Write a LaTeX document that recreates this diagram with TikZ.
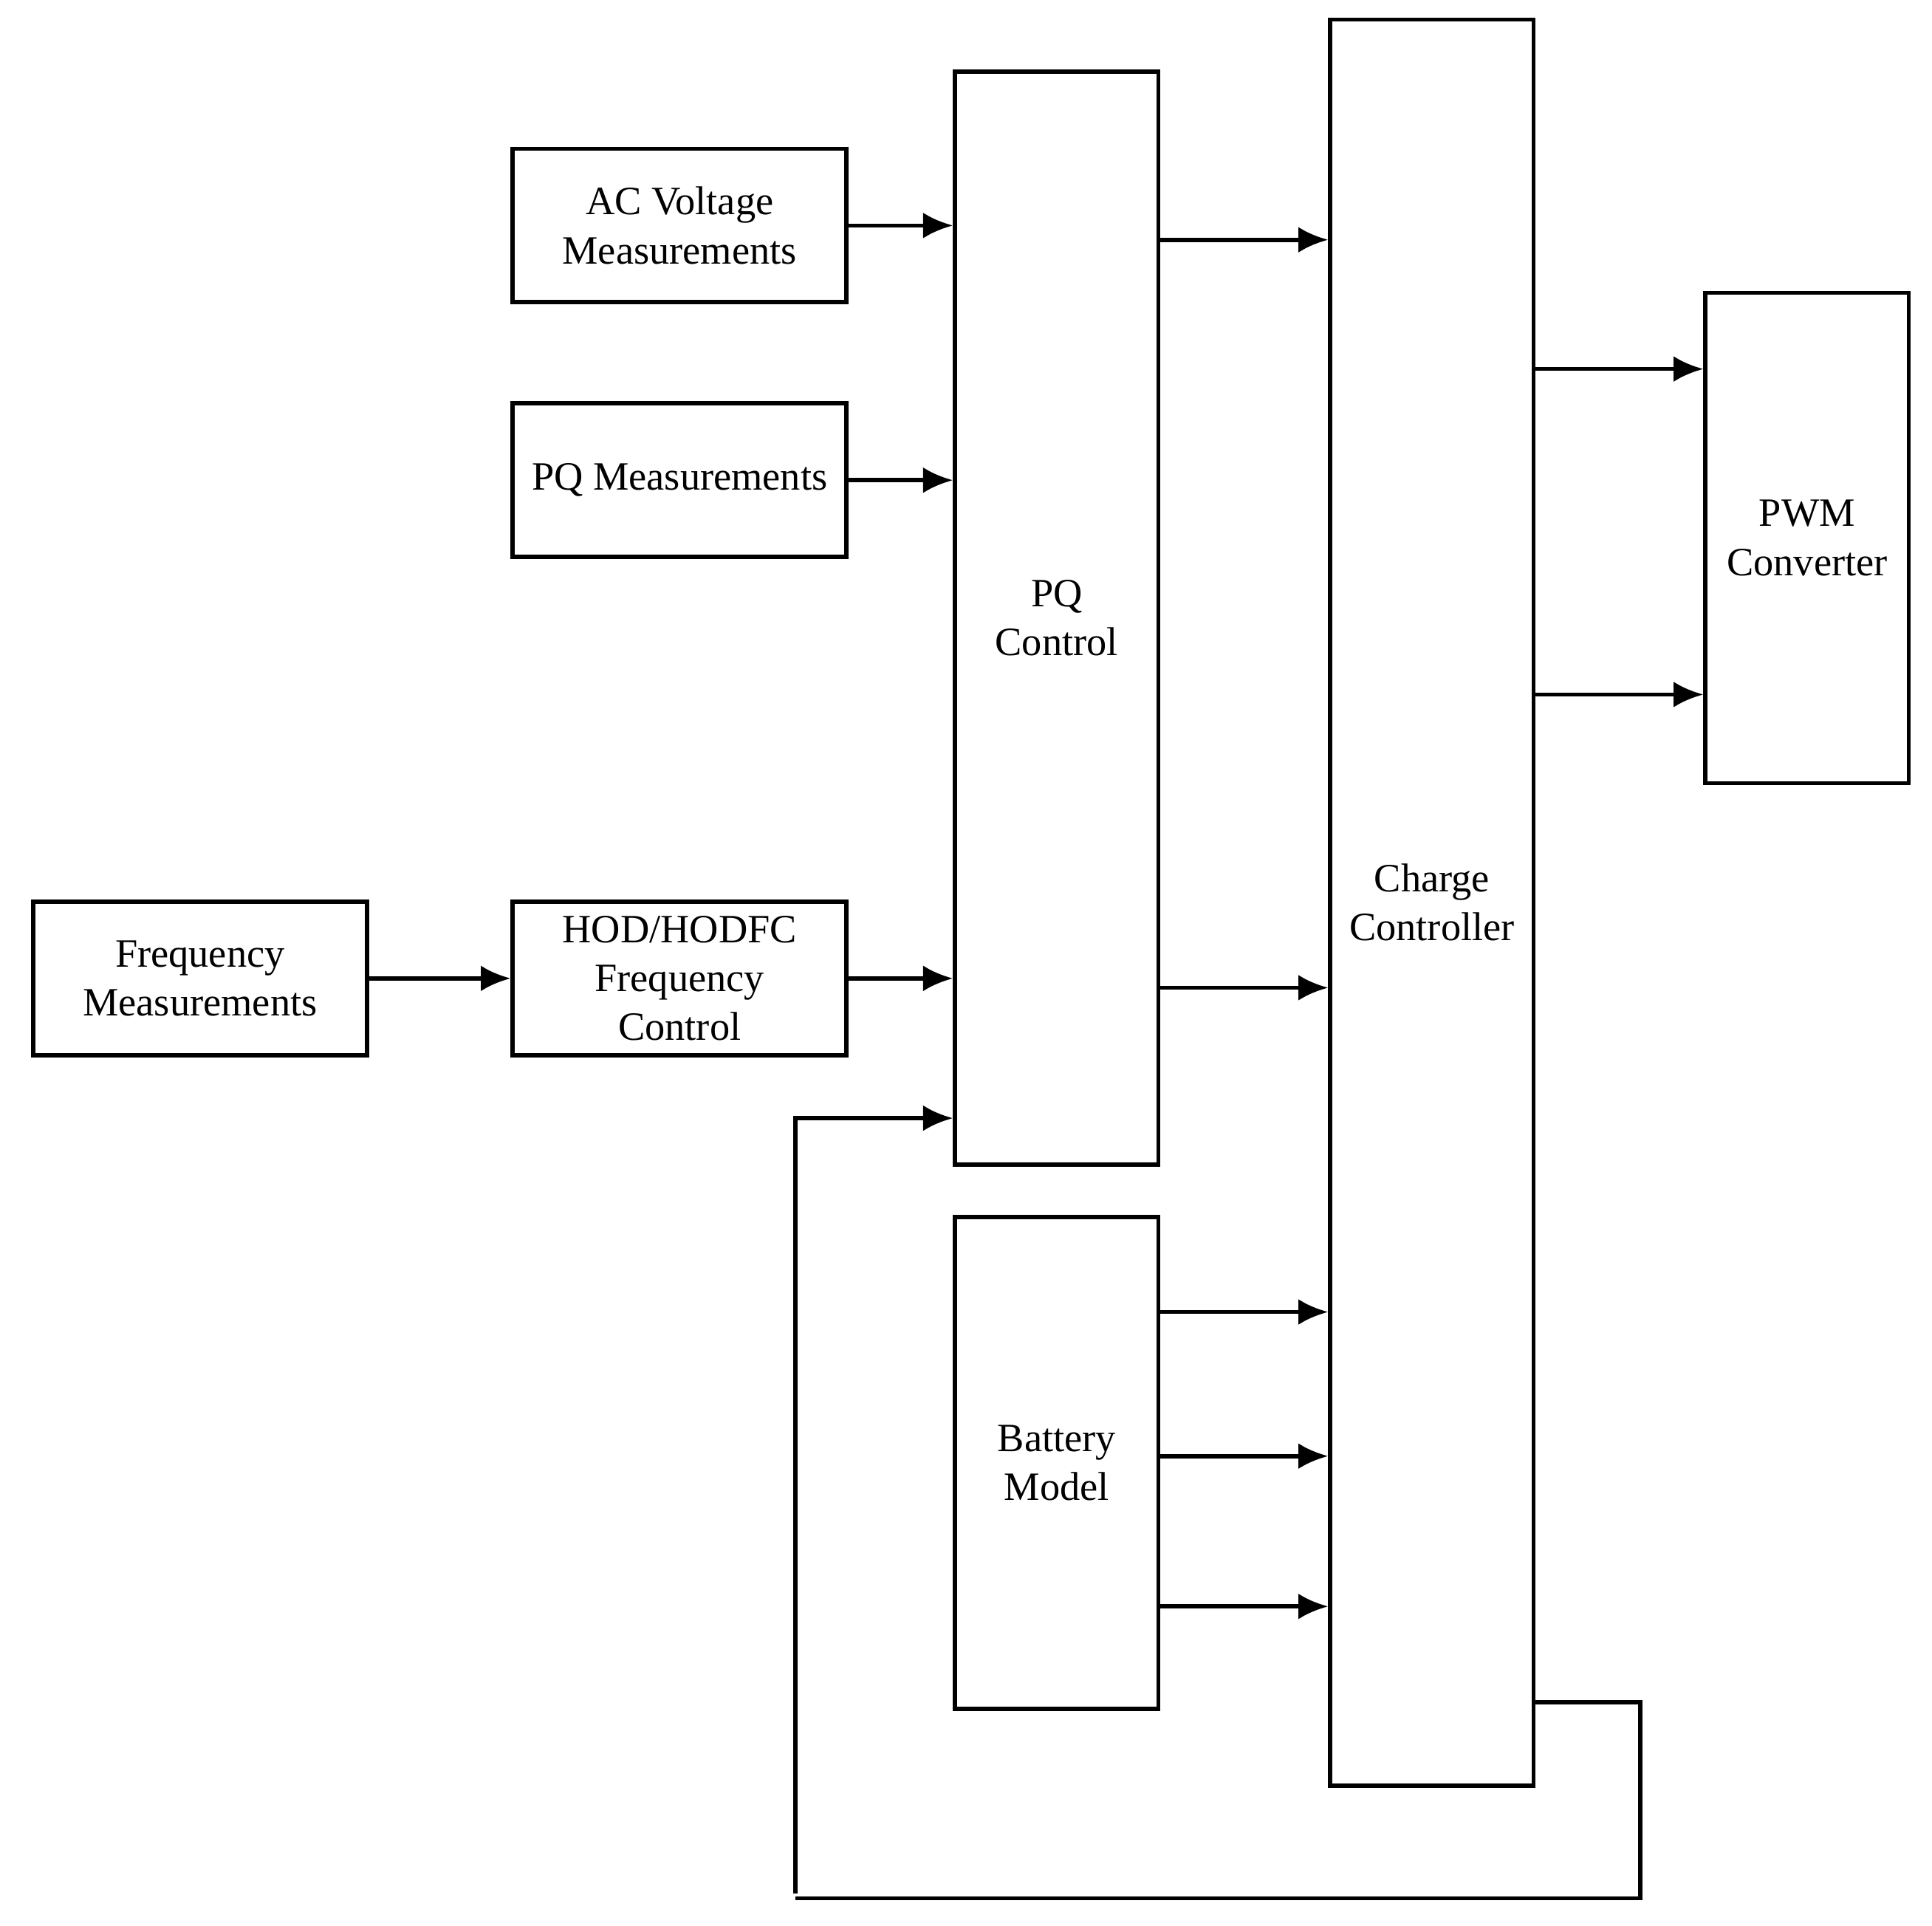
\documentclass[tikz,border=0pt]{standalone}
\usepackage{fontspec}
\setmainfont{Liberation Serif}
\usetikzlibrary{arrows.meta}
\begin{document}
\begin{tikzpicture}[x=0.0125cm,y=-0.0125cm,
  box/.style={draw,line width=1.2pt,rectangle,inner sep=0pt,align=center,font=\fontsize{11.5}{14}\selectfont},
  arr/.style={line width=1.2pt,-{Latex[length=3mm,width=2.6mm]}},
  ln/.style={line width=1.2pt}]
\useasboundingbox (0,0) rectangle (1555,1550);
\newcommand\bx[6]{\node[box,minimum width=#4*0.0125cm-1.2pt,minimum height=#5*0.0125cm-1.2pt] (#1) at (#2,#3) {#6};}
\bx{ac}{547}{181.5}{272}{127}{AC Voltage\\Measurements}
\bx{pqm}{547}{386.5}{272}{127}{PQ Measurements}
\bx{fm}{161}{787.5}{272}{127}{Frequency\\Measurements}
\bx{hod}{547}{787.5}{272}{127}{HOD/HODFC\\Frequency\\Control}
\bx{pq}{850.5}{497.5}{167}{883}{PQ\\Control}
\bx{bat}{850.5}{1177.5}{167}{399}{Battery\\Model}
\bx{cc}{1152.5}{726.5}{167}{1425}{Charge\\Controller}
\bx{pwm}{1454.5}{433}{167}{398}{PWM\\Converter}
\draw[arr] (ac.east) -- (ac.east -| pq.west);
\draw[arr] (pqm.east) -- (pqm.east -| pq.west);
\draw[arr] (hod.east) -- (hod.east -| pq.west);
\draw[arr] (fm.east) -- (hod.west);
\draw[arr] (pq.east |- 0,193) -- (cc.west |- 0,193);
\draw[arr] (pq.east |- 0,795) -- (cc.west |- 0,795);
\draw[arr] (bat.east |- 0,1056) -- (cc.west |- 0,1056);
\draw[arr] (bat.east |- 0,1172) -- (cc.west |- 0,1172);
\draw[arr] (bat.east |- 0,1293) -- (cc.west |- 0,1293);
\draw[arr] (cc.east |- 0,297) -- (pwm.west |- 0,297);
\draw[arr] (cc.east |- 0,559) -- (pwm.west |- 0,559);
\coordinate (f1) at (1320,1370);
\coordinate (f2) at (1320,1528);
\coordinate (f3) at (640,1528);
\coordinate (f4) at (640,900);
\draw[ln] (cc.east |- f1) -- (f1) -- (f2) -- (f3);
\draw[arr] (640,1524) -- (f4) -- (pq.west |- f4);
\end{tikzpicture}
\end{document}
